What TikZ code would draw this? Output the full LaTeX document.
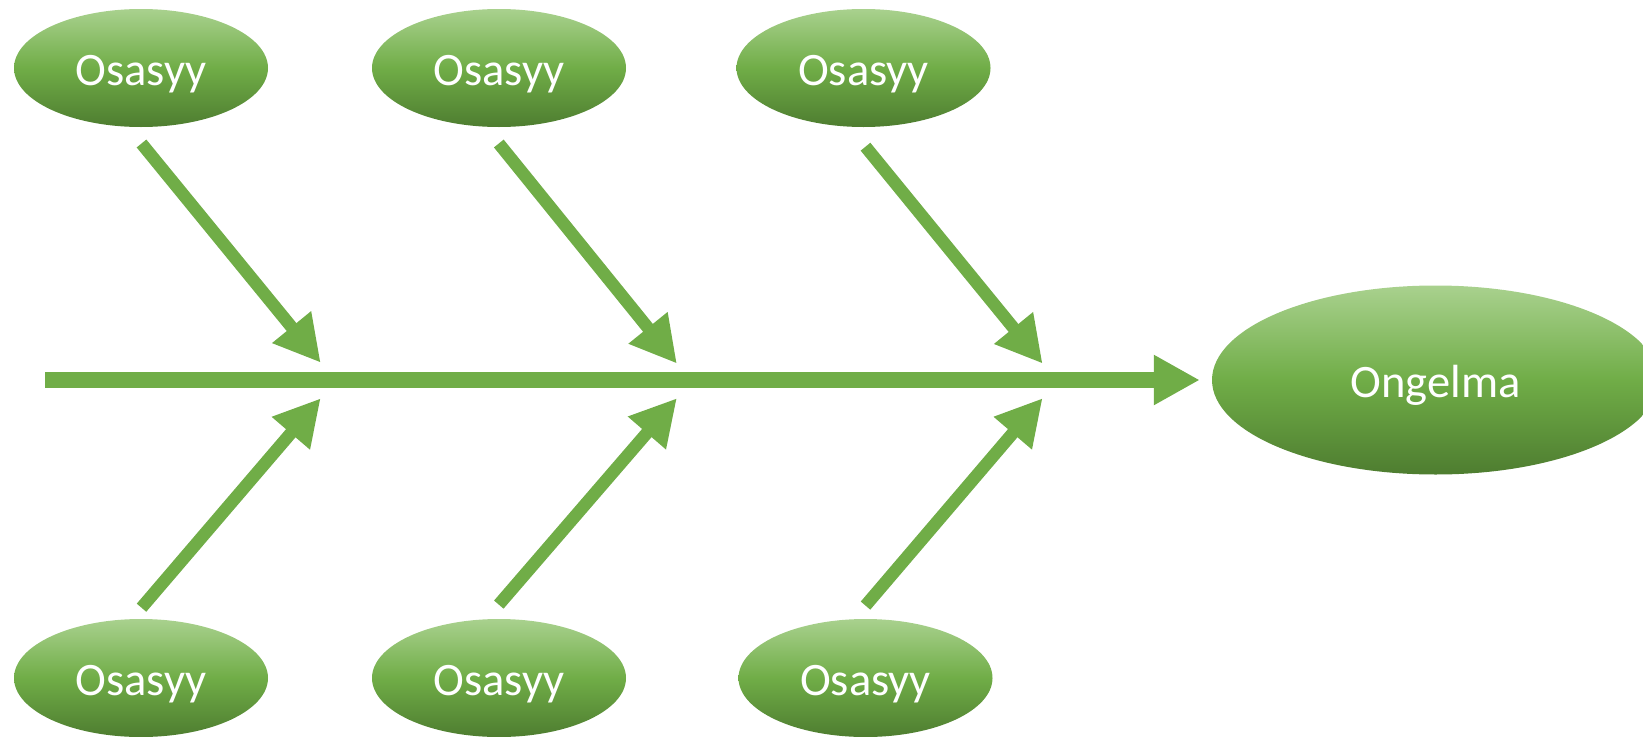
\documentclass[tikz,border=0pt]{standalone}
\usepackage{fontspec}
\setmainfont{Carlito}
\usetikzlibrary{arrows.meta,shapes.geometric}
\definecolor{fishgreen}{HTML}{70AD47}
\definecolor{lightgreen}{HTML}{A9D18E}
\definecolor{darkgreen}{HTML}{4E7D30}
\begin{document}
\begin{tikzpicture}[x=1pt,y=-1pt,
  blob/.style={ellipse, inner sep=0pt, top color=lightgreen, bottom color=darkgreen,
    middle color=fishgreen, text=white, font=\fontsize{46.5}{56}\selectfont,
    text height=34pt, text depth=0pt},
  cause/.style={blob, minimum width=254pt, minimum height=118pt},
  effect/.style={blob, minimum width=447pt, minimum height=189pt},
  bone/.style={draw=fishgreen, line width=12.5pt, -{Triangle[length=46pt,width=47pt]}},
  spine/.style={draw=fishgreen, line width=16pt, -{Triangle[length=46pt,width=47pt]}}]
\useasboundingbox (0,0) rectangle (1643,736);
\clip (0,0) rectangle (1643,736);

% causes above and below the spine, and the effect on the right
\node[cause] (c1) at (141,68) {Osasyy};
\node[cause] (c2) at (499,68) {Osasyy};
\node[cause] (c3) at (863.5,68) {Osasyy};
\node[cause] (c4) at (141,678) {Osasyy};
\node[cause] (c5) at (499,678) {Osasyy};
\node[cause] (c6) at (865.5,678) {Osasyy};
\node[effect] (prob) at (1435.5,380) {Ongelma};

% bone end points
\coordinate (spineStart) at (45,380);
\coordinate (t1s) at (141.5,143.5);  \coordinate (t1e) at (320.7,362.7);
\coordinate (b1s) at (141.5,607.7);  \coordinate (b1e) at (320.7,398.3);
\coordinate (t2s) at (498.8,143.5);  \coordinate (t2e) at (676.9,363.6);
\coordinate (b2s) at (498.8,604.6);  \coordinate (b2e) at (676.9,398.2);
\coordinate (t3s) at (865.5,146.7);  \coordinate (t3e) at (1042.6,363.6);
\coordinate (b3s) at (865.5,605.6);  \coordinate (b3e) at (1042.6,398.2);

% main spine
\draw[spine, shorten >=12pt] (spineStart) -- (spineStart -| prob.west);

% diagonal bones
\foreach \b in {t1,b1,t2,b2,t3,b3}
  \draw[bone] (\b s) -- (\b e);
\end{tikzpicture}
\end{document}
